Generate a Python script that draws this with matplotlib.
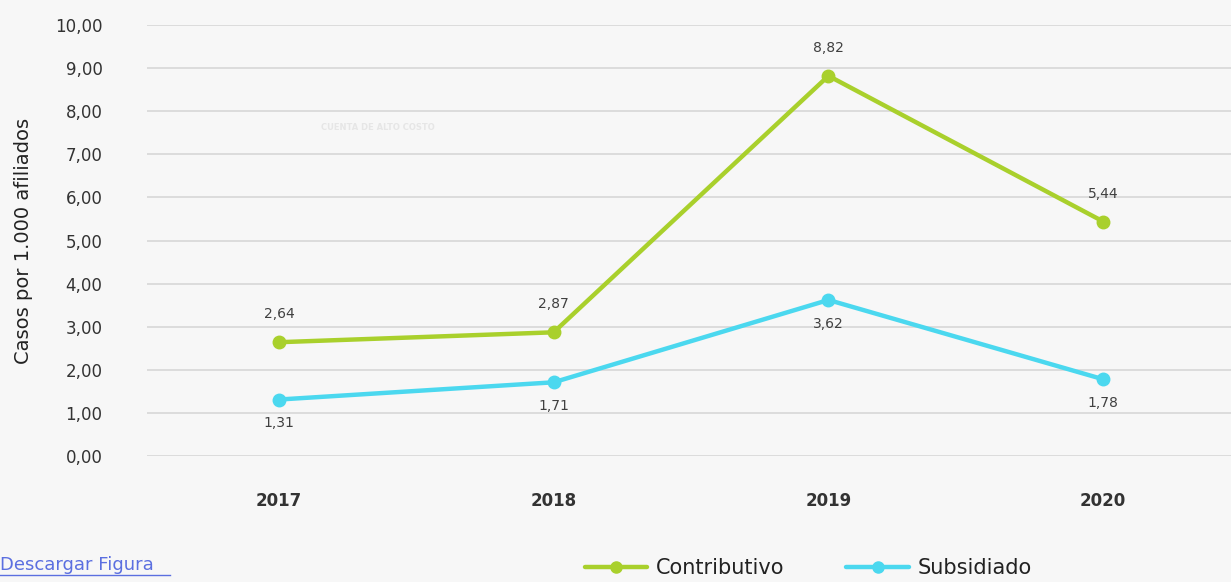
import matplotlib.pyplot as plt

years = ['2017', '2018', '2019', '2020']
contributivo = [2.64, 2.87, 8.82, 5.44]
subsidiado = [1.31, 1.71, 3.62, 1.78]
yticks = [0, 1, 2, 3, 4, 5, 6, 7, 8, 9, 10]

GREEN = '#a9d02c'
CYAN = '#4bd8ef'
BG = '#f7f7f7'

plt.rcParams['font.family'] = ['DejaVu Sans']

fig = plt.figure(figsize=(12.31, 5.82), dpi=100, facecolor=BG)
ax = fig.add_axes([147/1231, 1-456/582, 1-147/1231, (456-25)/582])
ax.set_facecolor(BG)

x = list(range(len(years)))
ax.plot(x, contributivo, color=GREEN, lw=3.2, marker='o', ms=9, solid_capstyle='round', zorder=3)
ax.plot(x, subsidiado, color=CYAN, lw=3.2, marker='o', ms=9, solid_capstyle='round', zorder=3)

for i, v in enumerate(contributivo):
    ax.annotate(f'{v:.2f}'.replace('.', ','), (i, v), xytext=(0, 15), textcoords='offset points',
                ha='center', va='bottom', fontsize=10, color='#404040')
for i, v in enumerate(subsidiado):
    ax.annotate(f'{v:.2f}'.replace('.', ','), (i, v), xytext=(0, -12), textcoords='offset points',
                ha='center', va='top', fontsize=10, color='#404040')

ax.set_xlim(-0.48, 3.465)
ax.set_ylim(0, 10)
ax.set_yticks(yticks)
ax.set_yticklabels([f'{t:.2f}'.replace('.', ',') for t in yticks], fontsize=12, color='#333333')
ax.set_xticks(x)
ax.set_xticklabels(years, fontsize=12, fontweight='bold', color='#333333')
ax.tick_params(axis='y', length=0, pad=32)
ax.tick_params(axis='x', length=0, pad=26)
ax.grid(axis='y', color='#dadada', lw=1.3)
ax.set_axisbelow(True)
for s in ax.spines.values():
    s.set_visible(False)
ax.set_ylabel('Casos por 1.000 afiliados', fontsize=14, color='#222222', labelpad=16)

# faint watermark
fig.text(378/1231, 1-128/582, 'CUENTA DE ALTO COSTO', fontsize=6, color='#e6e6e6',
         ha='center', va='center', fontweight='bold')

# legend
leg = fig.legend(['Contributivo', 'Subsidiado'], loc='center', bbox_to_anchor=(808/1231, 1-568/582),
                 ncol=2, frameon=False, fontsize=15, handlelength=3.0, columnspacing=3.0,
                 handletextpad=0.4, labelcolor='#222222')
for h in leg.legend_handles:
    h.set_markersize(8)

fig.text(0, 1-565/582, 'Descargar Figura ', fontsize=13, color='#5b6fe0', ha='left', va='center')
fig.add_artist(plt.Line2D([0, 170/1231], [1-575/582, 1-575/582], color='#5b6fe0', lw=1))

fig.savefig('out.png', dpi=100, facecolor=BG)
